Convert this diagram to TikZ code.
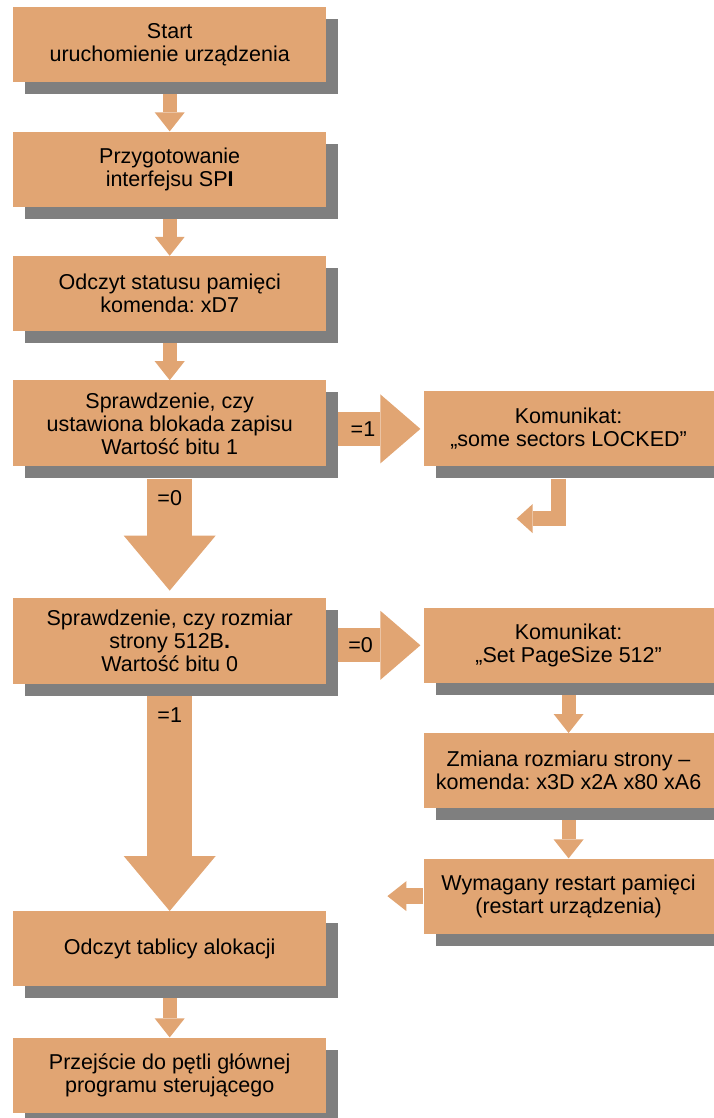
\documentclass[tikz,border=0pt]{standalone}
\usepackage{fontspec}
\setmainfont{Liberation Sans}
\usepackage{xcolor}
\usetikzlibrary{arrows.meta,positioning,calc,shadows}
\definecolor{boxfill}{RGB}{225,165,115}
\definecolor{boxshadow}{RGB}{127,127,127}
\frenchspacing

\begin{document}
\begin{tikzpicture}[x=1pt,y=1pt,node distance=49pt,
    font=\fontsize{21.5}{23}\selectfont,
    main node/.style={fill=boxfill,minimum width=313pt,minimum height=75pt,
      inner sep=0pt,align=center,
      drop shadow={shadow xshift=12pt,shadow yshift=-12pt,fill=boxshadow,opacity=1}},
    tall node/.style={main node,minimum height=86pt},
    side node/.style={main node,minimum width=290pt},
    small arrow/.style={draw=boxfill,line width=14pt,
      -{Triangle[width=30pt,length=19pt,line width=0pt]}},
    wide arrow/.style={draw=boxfill,line width=34pt,
      -{Triangle[width=69pt,length=40pt,line width=0pt]}},
    big arrow/.style={draw=boxfill,line width=45pt,
      -{Triangle[width=92pt,length=55pt,line width=0pt]}}]

  \useasboundingbox (0,0) rectangle (713,-1118);

  % main column
  \node[main node,anchor=north west] (1) at (13,-7) {Start\\uruchomienie urządzenia};
  \node[main node] (2) [below=of 1] {Przygotowanie\\interfejsu SP\textbf{I}};
  \node[main node] (3) [below=of 2] {Odczyt statusu pamięci\\komenda: xD7};
  \node[tall node] (4) [below=of 3] {Sprawdzenie, czy\\ustawiona blokada zapisu\\Wartość bitu 1};
  \node[tall node] (5) [below=131pt of 4] {Sprawdzenie, czy rozmiar\\strony 512B\textbf{.}\\Wartość bitu 0};
  \node[main node] (6) [below=227pt of 5] {Odczyt tablicy alokacji};
  \node[main node] (7) [below=51pt of 6] {Przejście do pętli głównej\\programu sterującego};

  % side column
  \node[side node] (8) [right=97pt of 4.south east,anchor=south west] {Komunikat:\\„some sectors LOCKED”};
  \node[side node] (9) [below=141pt of 8] {Komunikat:\\„Set PageSize 512”};
  \node[side node] (10) [below=50pt of 9] {Zmiana rozmiaru strony --\\komenda: x3D x2A x80 xA6};
  \node[side node] (11) [below=50pt of 10] {Wymagany restart pamięci\\(restart urządzenia)};

  \coordinate (lock end) at ($(8.south)+(-52,-52)$);
  \coordinate (restart end) at ($(11.west)+(-36,0)$);

  \draw[small arrow] ([yshift=-12pt]1.south) -- (2.north);
  \draw[small arrow] ([yshift=-12pt]2.south) -- (3.north);
  \draw[small arrow] ([yshift=-12pt]3.south) -- (4.north);
  \draw[big arrow] ([yshift=-12pt]4.south) -- ([yshift=7pt]5.north) node[pos=0.17] {=0};
  \draw[big arrow] ([yshift=-12pt]5.south) -- (6.north) node[pos=0.09] {=1};
  \draw[small arrow] ([yshift=-12pt]6.south) -- (7.north);
  \draw[wide arrow] ($(4.east |- 8.west)+(12,0)$) -- ([xshift=-3pt]8.west) node[pos=0.3] {=1};
  \draw[wide arrow] ($(5.east |- 9.west)+(12,0)$) -- ([xshift=-3pt]9.west) node[pos=0.27] {=0};
  \draw[small arrow,line width=15pt,-{Triangle[width=29pt,length=16pt,line width=0pt]}]
    ([shift={(-10.5,-12)}]8.south) |- (lock end);
  \draw[small arrow] ([yshift=-12pt]9.south) -- (10.north);
  \draw[small arrow] ([yshift=-12pt]10.south) -- (11.north);
  \draw[small arrow,line width=16pt] (11.west) -- (restart end);
\end{tikzpicture}
\end{document}
